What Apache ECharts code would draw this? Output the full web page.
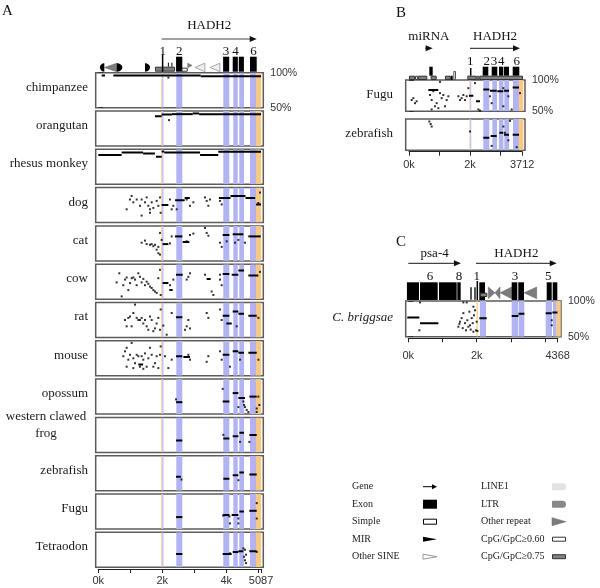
<!DOCTYPE html>
<html><head><meta charset="utf-8">
<script src="https://cdn.jsdelivr.net/npm/echarts@6.0.0/dist/echarts.min.js"></script>
<style>html,body{margin:0;padding:0;background:#fff}#c{width:600px;height:588px}</style>
</head><body><div id="c"></div>
<script>
// ================= DATA =================
// ---- Panel A (human HADH2 region, 5087 bp) ----
const speciesA = ['chimpanzee','orangutan','rhesus monkey','dog','cat','cow','rat','mouse','opossum','western clawed\nfrog','zebrafish','Fugu','Tetraodon'];
const ticksA = [[0,'0k'],[2000,'2k'],[4000,'4k'],[5087,'5087']];
const lengthA = 5087;
// [start, end, kind] kind 0 = exon (blue), 1 = UTR (orange)
const highlightA = [[1970,2000,1],[2000,2035,0],[2437,2625,0],[3906,4094,0],[4219,4356,0],[4406,4553,0],[4741,4928,0],[4928,5084,1]];
// [type, start, end, direction]
const featuresA = [
  ['mir',53,188,'L'],['repeat',188,575,'L'],['mir',575,750,'R'],['mir',1460,1615,'R'],
  ['cpg',1770,2400],['line',2010,2010],['tick',2190,2190],['tick',2300,2300],
  ['exon',2430,2625],['cpg60',2600,2795],['repeatS',2795,2930,'R'],
  ['sine',3020,3330,'L'],['sine',3490,3800,'L'],
  ['exon',3900,4090],['exon',4200,4360],['exon',4390,4550],['exon',4740,4950]
];
const genesA = [['HADH2',1981,4950]];
const exonNumA = [[2012,'1'],[2531,'2'],[3990,'3'],[4290,'4'],[4850,'6']];

// conservation: segments [start, end, %identity], dots [pos, %identity]
const chimpSegs = [[105,210,96],[470,3200,96],[3200,5087,95]];
const chimpDots = [[2190,93]];
const orangSegs = [[1770,1980,92.5],[1980,2300,95],[2300,2950,95.5],[2950,3150,96.5],[3150,5087,95.5]];
const orangDots = [[2209,87]];
const rhesusSegs = [[0,730,92],[730,1400,95.5],[1400,1770,94],[1800,1980,89.5],[1980,2060,97],[2060,3180,95.5],[3180,3750,92],[3750,5087,96.5]];
const rhesusDots = [];
const dogSegs = [[1980,2190,75],[2400,2700,82],[2700,2860,85],[3770,4130,85],[4130,4600,88],[4600,4900,85],[4930,5087,76]];
const dogDots = [[886,69],[990,83],[1042,88],[1095,79],[1200,83],[1303,74],[1355,83],[1459,79],[1511,86],[1563,74],[1616,69],[1668,79],[1720,71],[1824,81],[1876,74],[1928,86],[1949,64],[2240,83],[2293,69],[2345,74],[2449,69],[2762,83],[2866,74],[2970,79],[1355,60],[1616,64],[3335,86],[3387,81],[3491,83],[3439,74],[3804,81],[3856,76],[5054,93],[5002,78]];
const catSegs = [[2010,2190,74],[2397,2626,85],[2637,2845,77],[3887,4096,87],[4200,4533,88],[4690,5075,85]];
const catDots = [[1355,76],[1459,79],[1511,74],[1616,73],[1668,74],[1720,71],[1772,73],[1824,66],[1876,61],[1928,59],[1928,90],[1876,70],[1980,80],[2240,75],[2293,85],[2762,78],[2866,87],[2970,89],[3335,97],[3387,90],[3439,86],[3804,76],[3856,70],[4012,78],[4273,76],[4377,80],[4585,76]];
const cowSegs = [[2010,2190,73],[2220,2324,63],[2430,2637,85],[3387,3512,79],[3887,4096,86],[4168,4377,85],[4377,4554,91],[4690,5002,84]];
const cowDots = [[574,74],[657,87],[730,54],[782,70],[834,78],[886,81],[938,63],[990,73],[1042,80],[1095,81],[1147,78],[1199,70],[1251,87],[1303,82],[1355,74],[1407,79],[1459,70],[1511,75],[1563,72],[1616,68],[1668,66],[1720,63],[1772,61],[1824,59],[1876,80],[1928,92],[1949,56],[2240,70],[2345,78],[2762,78],[2814,82],[2866,87],[3335,85],[3543,61],[3595,56],[3804,78],[3856,70],[3804,85],[5054,89]];
const ratSegs = [[2430,2626,79],[3887,4096,81],[4000,4170,70],[4200,4377,87],[4377,4554,84],[4690,4950,81]];
const ratDots = [[834,75],[886,66],[938,78],[990,80],[1042,66],[1095,85],[1147,97],[1199,78],[1251,75],[1303,75],[1355,78],[1407,70],[1459,75],[1511,66],[1563,61],[1616,80],[1668,75],[1720,59],[1772,63],[1824,70],[1876,78],[1928,61],[1949,90],[2032,67],[2137,54],[2293,85],[2762,66],[2814,75],[2866,63],[3387,85],[3439,78],[3804,90],[3856,75],[4325,66],[5002,78],[2710,61]];
const mouseSegs = [[1250,1400,66],[2430,2626,78],[2660,2866,77],[3887,4096,80],[4200,4377,85],[4377,4554,83],[4690,4950,83]];
const mouseDots = [[782,78],[834,85],[886,63],[938,73],[990,80],[1042,97],[1095,75],[1147,68],[1199,80],[1251,78],[1303,63],[1355,78],[1407,73],[1459,82],[1511,63],[1563,75],[1616,90],[1668,80],[1720,63],[1772,68],[1824,78],[1876,61],[1928,80],[1949,92],[2084,78],[2189,61],[2293,73],[2814,80],[2866,73],[3387,70],[3439,78],[3804,85],[3856,73],[4116,63],[4429,73],[5002,73],[886,90],[1095,61],[1407,60]];
const opossumSegs = [[2430,2626,67],[3887,4096,68],[4200,4377,80],[4377,4585,73],[4720,4950,75]];
const opossumDots = [[2428,71],[3887,86],[4533,68],[4585,60],[4554,63],[4637,56],[4690,53],[4950,53],[5002,75],[5033,63],[4950,58],[4377,60]];
const frogSegs = [[2430,2626,67],[3908,4096,70],[4200,4377,73],[4408,4554,78],[4720,4950,75]];
const frogDots = [[3908,75],[4429,65],[4720,65]];
const zebrafishSegs = [[2430,2580,70],[3908,4096,67],[4200,4377,72],[4408,4554,76],[4720,4950,73]];
const zebrafishDots = [[2600,66],[4377,65]];
const fuguSegs = [[2430,2626,67],[3887,4096,70],[4168,4377,70],[4408,4554,75],[4720,4950,76]];
const fuguDots = [[3908,69],[4096,68],[4116,58],[4377,58],[4377,65],[4950,87],[4950,65]];
const tetraodonSegs = [[2430,2626,69],[3887,4168,69],[4200,4377,72],[4377,4533,73],[4720,4950,73]];
const tetraodonDots = [[4012,69],[4116,70],[4533,77],[4585,75],[4617,68],[4585,60],[4617,56],[4554,65],[4950,72]];

// ---- Panel B (zebrafish region, 3712 bp) ----
const speciesB = ['Fugu','zebrafish'];
const ticksB = [[0,'0k'],[2000,'2k'],[3712,'3712']];
const lengthB = 3712;
const highlightB = [[1985,2010,1],[2010,2040,0],[2437,2633,0],[2732,2885,0],[2950,3095,0],[3125,3280,0],[3410,3605,0],[3605,3745,1]];
const featuresB = [
  ['cpg',0,200],['cpg60',200,300],['cpg',300,600],['cpg',711,908],['exon',666,777],
  ['cpg',1180,1367],['bar',1367,1433],['simple',1452,1541],
  ['cpg',1911,2220],['cpg60',2220,2305],['cpg',2305,3738],['line',2023,2023],
  ['exon',2416,2600],['exon',2711,2895],['exon',2951,3092],['exon',3115,3279],['exon',3400,3616]
];
const genesB = [['miRNA',525,777],['HADH2',2000,3640]];
const exonNumB = [[2010,'1'],[2547,'2'],[2787,'3'],[3026,'4'],[3531,'6']];
const fuguBSegs = [[634,962,84],[1967,2110,75],[2197,2328,66],[2437,2634,85],[2656,2875,83],[2896,3093,82],[3115,3279,83],[3399,3607,88]];
const fuguBDots = [[87,68],[142,71],[197,63],[251,66],[689,76],[743,68],[798,82],[853,58],[907,63],[962,55],[1017,79],[1071,71],[1126,76],[1180,58],[1235,68],[1290,74],[1017,97],[743,53],[1618,74],[1672,68],[1727,71],[1782,76],[1836,68],[1891,74],[1946,87],[2164,95],[2273,53],[2328,51],[2656,74],[2711,63],[3093,58],[3093,87],[3366,53],[3640,79],[3257,74]];
const zebrafishBSegs = [[2437,2634,70],[2678,2875,73],[2962,3093,78],[3115,3279,75],[3399,3607,75]];
const zebrafishBDots = [[667,96],[710,92],[743,88],[2000,80],[2711,57],[3093,88],[3312,97],[3257,66],[3531,55],[3148,78]];

// ---- Panel C (C. elegans region, 4368 bp) ----
const speciesC = ['C. briggsae'];
const ticksC = [[0,'0k'],[2000,'2k'],[4368,'4368']];
const lengthC = 4368;
const highlightC = [[1994,2030,1],[2096,2272,0],[3023,3208,0],[3228,3392,0],[4018,4202,0],[4231,4339,0],[4339,4456,1]];
const featuresC = [
  ['exon',-40,313],['exon',342,860],['exon',898,1415],['exon',1433,1532],
  ['simple',1804,1862],['simple',1921,1959],['line',2018,2018],
  ['exon',2076,2243],['cpg',2096,2310],
  ['repeat',2339,2535,'R'],['repeat',2535,2681,'L'],['repeat',2681,3023,'L'],
  ['exon',3023,3187],['exon',3216,3383],['repeat',3383,3754,'L'],
  ['exon',4047,4193],['exon',4222,4357]
];
const genesC = [['psa-4',0,1540],['HADH2',1980,4340]];
const exonNumC = [[634,'6'],[1482,'8'],[2000,'1'],[3120,'3'],[4094,'5']];
const briggsaeSegs = [[-30,323,77],[343,879,69],[2078,2293,76],[3024,3219,79],[3219,3394,82],[4018,4194,83],[4213,4360,84]];
const briggsaeDots = [[343,98],[323,59],[1610,98],[1708,98],[1464,64],[1493,68],[1513,71],[1561,76],[1591,62],[1610,83],[1659,69],[1688,59],[1727,73],[1756,64],[1786,85],[1805,66],[1825,60],[1854,76],[1883,69],[1903,57],[1922,80],[1951,87],[1981,59],[2000,71],[2020,58],[4194,73],[4194,66],[1903,92]];

// ---- Legend ----
const legendLeft = [['Gene','gene'],['Exon','exon'],['Simple','simple'],['MIR','mir'],['Other SINE','sine']];
const legendRight = [['LINE1','line1'],['LTR','ltr'],['Other repeat','repeat'],['CpG/GpC\u22650.60','cpg60'],['CpG/GpC\u22650.75','cpg75']];

// ================= LAYOUT / STYLE =================
const SERIF = "'Liberation Serif','DejaVu Serif',serif";
const SANS = "'Liberation Sans','DejaVu Sans',sans-serif";
const BLUE = '#b1b3f7', ORANGE = '#fdc877';
const PANEL_A = {left:95.7, width:167.6, xr:[-81,5156], top:72.7, pitch:38.3, h:35, axisY:569, labMargin:6.5, annH:55, labX:88, labDy:-3,
  tr:{exon:[-16,-1], cpg:[-6,-1], cpg60:[-5,-1], line:[-18,-1], tick:[-10,-6], mir:[-9.5,-1], repeat:[-9.5,-1], repeatS:[-9.5,-5], sine:[-9.5,-1], simple:[-5,-1], bar:[-4,-1], num:-21, arrow:-33.7, name:-46.7}};
const PANEL_B = {left:405.7, width:119.3, xr:[-108,3803], top:80, pitch:39, h:31.3, axisY:151.7, labMargin:8, annH:60, labX:393, labDy:-1,
  tr:{exon:[-13.3,-4.3], cpg:[-4.3,0], cpg60:[-4.3,0], line:[-12,-4.3], simple:[-9,0], bar:[-4.3,0], num:-18.3, arrow:-31.7, name:-43.3}};
const PANEL_C = {left:405.7, width:155.3, xr:[-76,4465], top:301, pitch:39, h:35.7, axisY:338.3, labMargin:12, annH:60, labX:393, labDy:-1,
  tr:{exon:[-18.7,-1], cpg:[-8.3,-4], line:[-20,-1], simple:[-14,-1], repeat:[-14,-2.3], num:-24, arrow:-37.7, name:-47.7}};

const grid=[], xAxis=[], yAxis=[], series=[], graphic=[];

function addGrid(box, xr, yr, border, xExtra, yExtra){
  const gi = grid.length;
  grid.push({left:box.left, top:box.top, width:box.width, height:box.height, show:!!border,
    borderColor:'#5c5c5c', borderWidth:1.5, backgroundColor:'rgba(0,0,0,0)', outerBoundsMode:'none', containLabel:false});
  xAxis.push(Object.assign({gridIndex:gi, type:'value', min:xr[0], max:xr[1], show:false, splitLine:{show:false}}, xExtra||{}));
  yAxis.push(Object.assign({gridIndex:gi, type:'value', min:yr[0], max:yr[1], show:false, splitLine:{show:false}}, yExtra||{}));
  return gi;
}

function rightAxis(){
  return {show:true, position:'right', interval:50,
    axisLine:{show:false}, axisTick:{show:true, length:5, lineStyle:{color:'#333', width:1}},
    axisLabel:{show:true, formatter:v=>v+'%', fontSize:10.5, color:'#333', fontFamily:SANS, margin:7},
    splitLine:{show:false}};
}

function addRow(P, idx, name, segs, dots, hl, italic){
  const top = P.top + P.pitch*idx;
  const gi = addGrid({left:P.left, top:top, width:P.width, height:P.h}, P.xr, [50,100], true, null, idx===0 ? rightAxis() : null);
  series.push({type:'custom', xAxisIndex:gi, yAxisIndex:gi, clip:true, silent:true, z:1,
    data:hl.map(h=>[h[0],h[1],h[2]]), encode:{x:[0,1]},
    renderItem:(p,api)=>{const a=api.coord([api.value(0),100]), b=api.coord([api.value(1),50]);
      return {type:'rect', shape:{x:a[0], y:a[1], width:b[0]-a[0], height:b[1]-a[1]}, style:{fill: api.value(2)===1?ORANGE:BLUE}};}});
  series.push({type:'custom', xAxisIndex:gi, yAxisIndex:gi, clip:true, silent:true, z:3,
    data:segs, encode:{x:[0,1], y:2},
    renderItem:(p,api)=>{const a=api.coord([api.value(0),api.value(2)]), b=api.coord([api.value(1),api.value(2)]);
      return {type:'rect', shape:{x:a[0], y:a[1]-1, width:b[0]-a[0], height:2}, style:{fill:'#000'}};}});
  series.push({type:'scatter', xAxisIndex:gi, yAxisIndex:gi, silent:true, z:3, symbol:'rect', symbolSize:2,
    itemStyle:{color:'#000'}, data:dots});
  // species label
  const multi = name.indexOf('\n')>=0;
  graphic.push({type:'text', x: multi ? 46 : P.labX, y: top + P.h/2 + P.labDy + (multi?-7:0), silent:true,
    style:{text:name, font:(italic?'italic ':'')+'13px '+SERIF, fill:'#1a1a1a', lineHeight:16.5,
      align: multi?'center':'right', textAlign: multi?'center':'right', verticalAlign:'middle', textVerticalAlign:'middle'}});
}

function addBottomAxis(P, len, ticks){
  const s = P.width/(P.xr[1]-P.xr[0]);
  const left = P.left + (0-P.xr[0])*s;
  addGrid({left:left, top:P.axisY-1, width:len*s, height:1}, [0,len], [0,1], false,
    {show:true, position:'bottom', interval:1000,
     axisLine:{show:true, lineStyle:{color:'#222', width:1}},
     axisTick:{show:true, length:4, lineStyle:{color:'#222', width:1}},
     axisLabel:{show:true, showMinLabel:true, showMaxLabel:true, hideOverlap:false, fontSize:11, color:'#333', fontFamily:SANS, margin:P.labMargin,
       formatter:v=>{const t=ticks.find(k=>Math.abs(k[0]-v)<1e-6); return t?t[1]:'';}}});
}

function tri(dir,x1,x2,y1,y2){const ym=(y1+y2)/2; return dir==='L'?[[x1,ym],[x2,y1],[x2,y2]]:[[x1,y1],[x2,ym],[x1,y2]];}
function halfEllipse(dir,x1,x2,y1,y2){
  const ym=(y1+y2)/2, ry=(y2-y1)/2, rx=x2-x1, pts=[]; const cx = dir==='L'?x2:x1;
  for(let i=0;i<=16;i++){const a = dir==='L' ? Math.PI/2 + Math.PI*i/16 : -Math.PI/2 + Math.PI*i/16;
    pts.push([cx+rx*Math.cos(a), ym+ry*Math.sin(a)]);}
  return pts;
}
function drawFeature(f, api, tr){
  const type=f[0], dir=f[3];
  const p1=api.coord([f[1],0]), p2=api.coord([f[2],0]);
  const x1=p1[0], x2=p2[0], base=p1[1], r=tr[type];
  const y1=base+r[0], y2=base+r[1], w=x2-x1, h=y2-y1;
  switch(type){
    case 'exon': case 'bar': return {type:'rect', shape:{x:x1,y:y1,width:w,height:h}, style:{fill:'#000'}};
    case 'cpg': return {type:'rect', shape:{x:x1+0.5,y:y1+0.5,width:w-1,height:h-1}, style:{fill:'#808080', stroke:'#333', lineWidth:1}};
    case 'cpg60': return {type:'rect', shape:{x:x1+0.5,y:y1+0.5,width:w-1,height:h-1}, style:{fill:'#fff', stroke:'#333', lineWidth:1}};
    case 'simple': return {type:'rect', shape:{x:x1+0.5,y:y1+0.5,width:Math.max(w-1,1),height:h-1}, style:{fill:'#fff', stroke:'#555', lineWidth:1}};
    case 'line': return {type:'line', shape:{x1:x1,y1:y1,x2:x1,y2:y2}, style:{stroke:'#000', lineWidth:1.5}};
    case 'tick': return {type:'line', shape:{x1:x1,y1:y1,x2:x1,y2:y2}, style:{stroke:'#000', lineWidth:1}};
    case 'sine': return {type:'polygon', shape:{points:tri(dir,x1,x2,y1,y2)}, style:{fill:'#eeeeee', stroke:'#a8a8a8', lineWidth:1}};
    case 'repeat': case 'repeatS': return {type:'polygon', shape:{points:tri(dir,x1,x2,y1,y2)}, style:{fill:'#7c7c7c', stroke:'#666', lineWidth:0.5}};
    case 'mir': return {type:'polygon', shape:{points:halfEllipse(dir,x1,x2,y1,y2)}, style:{fill:'#000'}};
  }
  return null;
}

function addAnnotation(P, feats, genes, nums){
  const gi = addGrid({left:P.left, top:P.top-P.annH, width:P.width, height:P.annH}, P.xr, [0,1], false);
  const tr = P.tr;
  series.push({type:'custom', xAxisIndex:gi, yAxisIndex:gi, clip:false, silent:true, z:4,
    data:feats.map((f,i)=>[f[1],f[2],i]), encode:{x:[0,1]},
    renderItem:(p,api)=>drawFeature(feats[p.dataIndex], api, tr)});
  series.push({type:'custom', xAxisIndex:gi, yAxisIndex:gi, clip:false, silent:true, z:4,
    data:genes.map(g=>[g[1],g[2]]), encode:{x:[0,1]},
    renderItem:(p,api)=>{const g=genes[p.dataIndex]; const a=api.coord([g[1],0]), b=api.coord([g[2],0]);
      const y=a[1]+tr.arrow;
      return {type:'group', children:[
        {type:'line', shape:{x1:a[0],y1:y,x2:b[0]-4,y2:y}, style:{stroke:'#444', lineWidth:1.2}},
        {type:'polygon', shape:{points:[[b[0]-7,y-3],[b[0],y],[b[0]-7,y+3]]}, style:{fill:'#111'}},
        {type:'text', x:(a[0]+b[0])/2, y:a[1]+tr.name, style:{text:g[0], font:'13px '+SERIF, fill:'#111',
          align:'center', textAlign:'center', verticalAlign:'middle', textVerticalAlign:'middle'}}]};}});
  series.push({type:'custom', xAxisIndex:gi, yAxisIndex:gi, clip:false, silent:true, z:4,
    data:nums.map(n=>[n[0]]), encode:{x:0},
    renderItem:(p,api)=>{const n=nums[p.dataIndex]; const a=api.coord([n[0],0]);
      return {type:'text', x:a[0], y:a[1]+tr.num, style:{text:n[1], font:'13px '+SERIF, fill:'#111',
        align:'center', textAlign:'center', verticalAlign:'middle', textVerticalAlign:'middle'}};}});
}

// ---- Panel A ----
const rowsA = [[chimpSegs,chimpDots],[orangSegs,orangDots],[rhesusSegs,rhesusDots],[dogSegs,dogDots],[catSegs,catDots],[cowSegs,cowDots],[ratSegs,ratDots],[mouseSegs,mouseDots],[opossumSegs,opossumDots],[frogSegs,frogDots],[zebrafishSegs,zebrafishDots],[fuguSegs,fuguDots],[tetraodonSegs,tetraodonDots]];
rowsA.forEach((r,i)=>addRow(PANEL_A, i, speciesA[i], r[0], r[1], highlightA, false));
addBottomAxis(PANEL_A, lengthA, ticksA);
addAnnotation(PANEL_A, featuresA, genesA, exonNumA);
// ---- Panel B ----
addRow(PANEL_B, 0, speciesB[0], fuguBSegs, fuguBDots, highlightB, false);
addRow(PANEL_B, 1, speciesB[1], zebrafishBSegs, zebrafishBDots, highlightB, false);
addBottomAxis(PANEL_B, lengthB, ticksB);
addAnnotation(PANEL_B, featuresB, genesB, exonNumB);
// ---- Panel C ----
addRow(PANEL_C, 0, speciesC[0], briggsaeSegs, briggsaeDots, highlightC, true);
addBottomAxis(PANEL_C, lengthC, ticksC);
addAnnotation(PANEL_C, featuresC, genesC, exonNumC);

// ---- panel letters ----
[['A',2,11],['B',396,13],['C',396,242]].forEach(l=>graphic.push({type:'text', x:l[1], y:l[2], silent:true,
  style:{text:l[0], font:'15px '+SERIF, fill:'#111', align:'left', textAlign:'left', verticalAlign:'middle', textVerticalAlign:'middle'}}));

// ---- legend ----
function legendSymbol(key, x, y){
  const w=14;
  switch(key){
    case 'gene': return [{type:'line', shape:{x1:x,y1:y,x2:x+10,y2:y}, style:{stroke:'#000', lineWidth:1}},
                         {type:'polygon', shape:{points:[[x+9,y-2.5],[x+w,y],[x+9,y+2.5]]}, style:{fill:'#000'}}];
    case 'exon': return [{type:'rect', shape:{x:x,y:y-4.5,width:w,height:9}, style:{fill:'#000'}}];
    case 'simple': return [{type:'rect', shape:{x:x+0.5,y:y-2.5,width:w-1,height:5}, style:{fill:'#fff', stroke:'#000', lineWidth:1}}];
    case 'mir': return [{type:'polygon', shape:{points:[[x,y-2.5],[x+w,y],[x,y+2.5]]}, style:{fill:'#000'}}];
    case 'sine': return [{type:'polygon', shape:{points:[[x,y-2.5],[x+w,y],[x,y+2.5]]}, style:{fill:'#fff', stroke:'#999', lineWidth:1}}];
    case 'line1': return [{type:'rect', shape:{x:x,y:y-3.5,width:w,height:7, r:[1,3.5,3.5,1]}, style:{fill:'#e2e2e2'}}];
    case 'ltr': return [{type:'rect', shape:{x:x,y:y-3.5,width:w,height:7, r:[1,3.5,3.5,1]}, style:{fill:'#888'}}];
    case 'repeat': return [{type:'polygon', shape:{points:[[x,y-4],[x+w,y],[x,y+4]]}, style:{fill:'#7c7c7c', stroke:'#666', lineWidth:0.5}}];
    case 'cpg60': return [{type:'rect', shape:{x:x+0.5,y:y-2,width:w-1,height:4}, style:{fill:'#fff', stroke:'#333', lineWidth:1}}];
    case 'cpg75': return [{type:'rect', shape:{x:x+0.5,y:y-2,width:w-1,height:4}, style:{fill:'#808080', stroke:'#333', lineWidth:1}}];
  }
  return [];
}
[[legendLeft,352,423],[legendRight,481,552]].forEach(col=>{
  col[0].forEach((it,i)=>{
    const y = 486.7 + i*17.5;
    graphic.push({type:'text', x:col[1], y:y, silent:true, style:{text:it[0], font:'10px '+SERIF, fill:'#222',
      align:'left', textAlign:'left', verticalAlign:'middle', textVerticalAlign:'middle'}});
    legendSymbol(it[1], col[2], y).forEach(e=>{e.silent=true; graphic.push(e);});
  });
});

const chart = echarts.init(document.getElementById('c'), null, {renderer:'canvas', width:600, height:588});
chart.setOption({animation:false, backgroundColor:'#fff', grid, xAxis, yAxis, series, graphic});
</script>
</body></html>
